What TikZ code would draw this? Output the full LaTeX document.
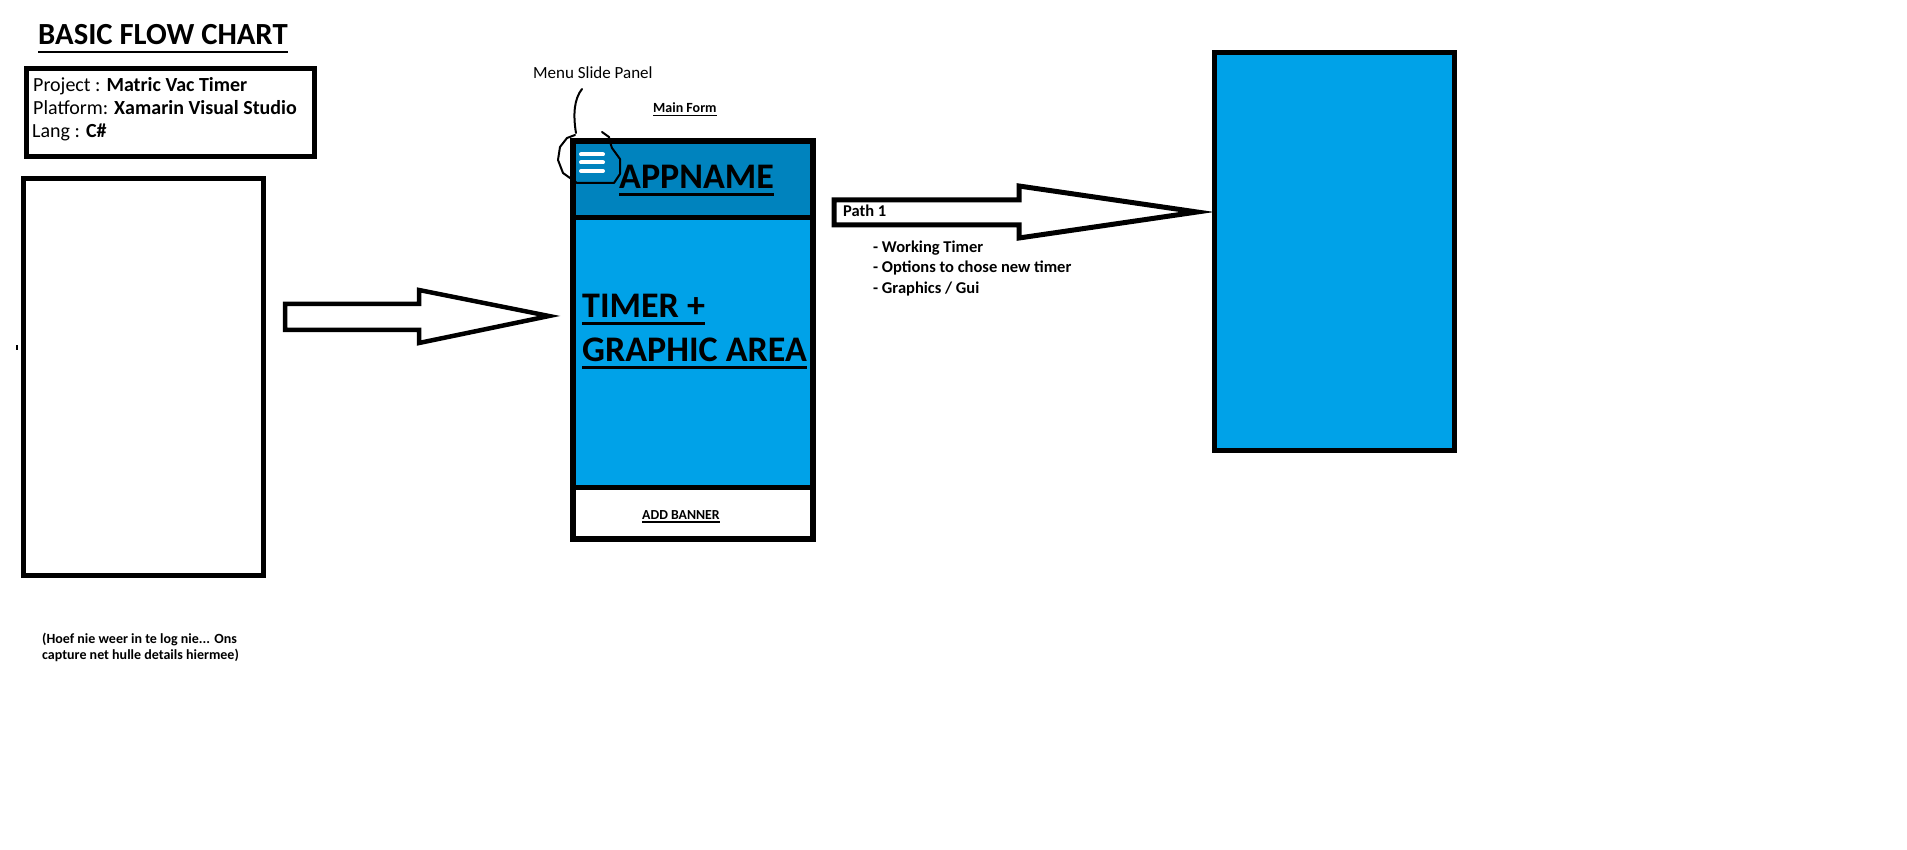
\documentclass[tikz,border=0pt]{standalone}
\usepackage{fontspec}
\setmainfont{Carlito}
\definecolor{screenblue}{HTML}{00A2E8}
\definecolor{headerblue}{HTML}{0083BE}
\begin{document}
\begin{tikzpicture}[x=1pt,y=-1pt,
  frame/.style={draw=black, line width=5pt, inner sep=0pt, outer sep=0pt, anchor=north west},
  blockarrow/.style={draw=black, line width=4.5pt, fill=white, line join=miter},
  lbl/.style={inner sep=0pt, anchor=base west, text=black},
  pen/.style={draw=black, line width=2pt, line join=round, line cap=round},
]
\useasboundingbox (0,0) rectangle (1907,850);
\fill[white] (0,0) rectangle (1907,850);

% heading
\node[lbl, font=\fontsize{30.7}{36}\selectfont\bfseries] (title) at (38,45) {BASIC FLOW CHART};
\draw[line width=2.5pt] ([yshift=-7pt]title.base west) -- ([yshift=-7pt]title.base east);

% project info
\node[frame, fill=white, minimum width=288pt, minimum height=88pt] (info) at (26.5,68.5) {};
\node[lbl, font=\fontsize{20}{24}\selectfont] (proj) at (33,92) {Project : \textbf{Matric Vac Timer}};
\node[lbl, font=\fontsize{20}{24}\selectfont] (plat) at (33,115) {Platform: \textbf{Xamarin Visual Studio}};
\node[lbl, font=\fontsize{20}{24}\selectfont] (lang) at (32,138) {Lang : \textbf{C\#}};

% login screen
\node[frame, minimum width=240pt, minimum height=397pt] (login) at (23.5,178.5) {};
\fill (16,345) rectangle (18,350);
\node[lbl, font=\fontsize{14}{16}\selectfont\bfseries] (note1) at (42,643) {(Hoef nie weer in te log nie... Ons};
\node[lbl, font=\fontsize{14}{16}\selectfont\bfseries] (note2) at (42,659) {capture net hulle details hiermee)};

% arrow login -> main form
\draw[blockarrow] (285,304) -- (419,304) -- (419,290) -- (549,316) -- (419,343) -- (419,330) -- (285,330) -- cycle;

% main form
\fill[headerblue] (573,141) rectangle (813,218);
\fill[screenblue] (573,218) rectangle (813,487);
\fill[white] (573,487) rectangle (813,539);
\draw[line width=5pt] (573,218) -- (813,218);
\draw[line width=5pt] (573,487) -- (813,487);
\node[frame, minimum width=240pt, minimum height=398pt, line width=5.5pt] (phone) at (573,141) {};

% hamburger icon
\foreach \yy in {154.5,162.5,171} \draw[white, line width=4pt, line cap=round] (581,\yy) -- (603,\yy);
\draw[pen] (575,135) -- (567,138) -- (560,147) -- (558,160) -- (563,173) -- (577,183) -- (614,183) -- (620,174) -- (620,159) -- (612,148) -- (610,142) -- (609,137) -- (602,132);

% labels on the main form
\node[lbl, font=\fontsize{14}{16}\selectfont\bfseries] (mainform) at (653,113) {Main Form};
\draw[line width=1.2pt] ([yshift=-2.5pt]mainform.base west) -- ([yshift=-2.5pt]mainform.base east);
\node[lbl, font=\fontsize{17}{20}\selectfont] (menu) at (533,79) {Menu Slide Panel};
\coordinate (menutail) at (582,89);
\draw[pen] (menutail) .. controls (574,99) and (573,115) .. (576,133);

\node[lbl, font=\fontsize{36}{40}\selectfont\bfseries] (appname) at (619,189) {APPNAME};
\draw[line width=3pt] ([yshift=-6pt]appname.base west) -- ([yshift=-6pt]appname.base east);
\node[lbl, font=\fontsize{36}{40}\selectfont\bfseries] (timer) at (582,318) {TIMER +};
\draw[line width=3pt] ([yshift=-6pt]timer.base west) -- ([yshift=-6pt]timer.base east);
\node[lbl, font=\fontsize{36}{40}\selectfont\bfseries] (graphic) at (582,362) {GRAPHIC AREA};
\draw[line width=3pt] ([yshift=-6pt]graphic.base west) -- ([yshift=-6pt]graphic.base east);
\node[lbl, font=\fontsize{13.8}{15}\selectfont\bfseries] (banner) at (642,519) {ADD BANNER};
\draw[line width=1.2pt] ([yshift=-3pt]banner.base west) -- ([yshift=-3pt]banner.base east);

% arrow main form -> next screen
\draw[blockarrow, line width=5pt] (834,200) -- (1019,200) -- (1019,186) -- (1197,212) -- (1019,238) -- (1019,225) -- (834,225) -- cycle;
\node[lbl, font=\fontsize{16.5}{17}\selectfont\bfseries] (path) at (843,217) {Path 1};
\node[lbl, font=\fontsize{16.5}{17}\selectfont\bfseries] (b1) at (873,253) {- Working Timer};
\node[lbl, font=\fontsize{16.5}{17}\selectfont\bfseries] (b2) at (873,273) {- Options to chose new timer};
\node[lbl, font=\fontsize{16.5}{17}\selectfont\bfseries] (b3) at (873,294) {- Graphics / Gui};

% next screen
\node[frame, fill=screenblue, minimum width=240pt, minimum height=398pt] (timerscreen) at (1214.5,52.5) {};
\end{tikzpicture}
\end{document}
